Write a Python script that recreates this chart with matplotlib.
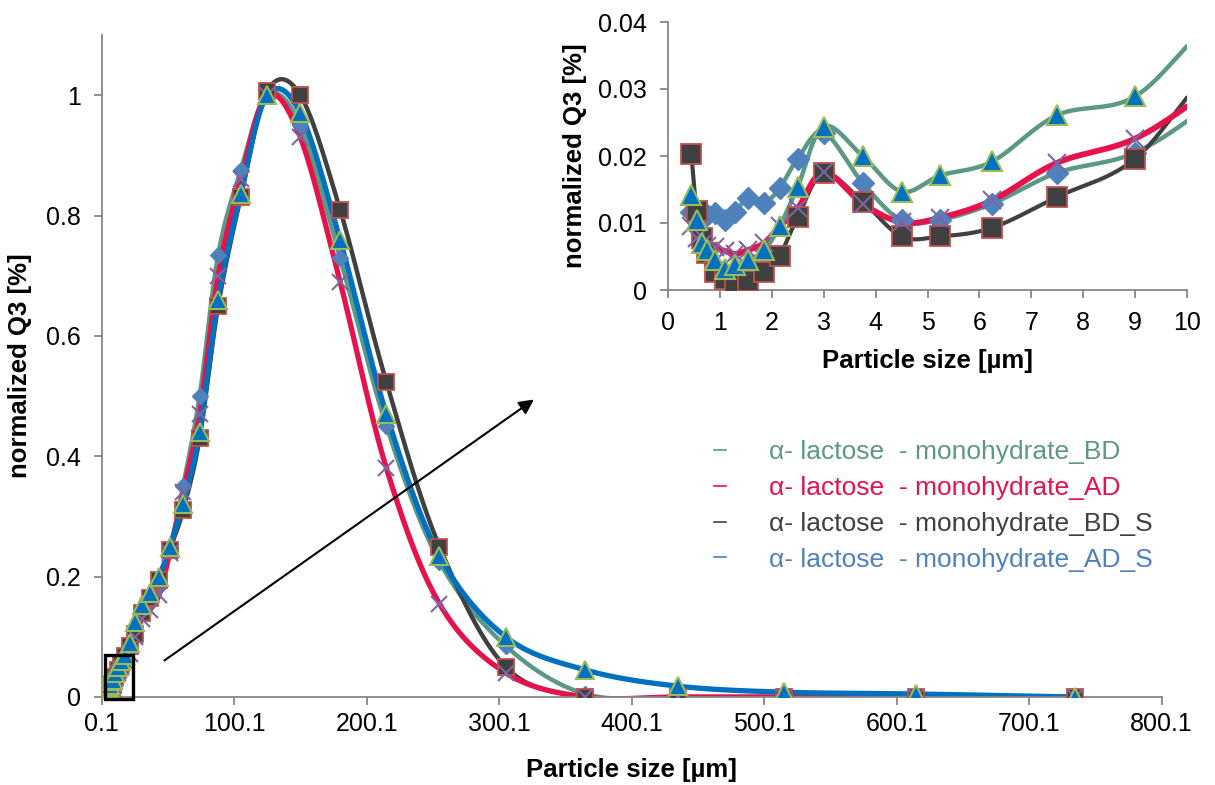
import numpy as np
import matplotlib
matplotlib.use('Agg')
import matplotlib.pyplot as plt
from matplotlib.lines import Line2D
from matplotlib.patches import Rectangle

plt.rcParams['font.family'] = ['Liberation Sans', 'DejaVu Sans']

# ---------------- data ----------------
sizes = [0.45, 0.55, 0.65, 0.75, 0.9, 1.1, 1.3, 1.55, 1.85, 2.15,
         2.5, 3.0, 3.75, 4.5, 5.25, 6.25, 7.5, 9.0, 10.5, 12.5,
         15, 18, 21.5, 25.5, 30.5, 36.5, 43.5, 51.5, 61.5, 74,
         88, 105, 125, 150, 180, 215, 255, 305, 365, 435,
         515, 615, 735]

q3_bd = [0.0116, 0.0112, 0.0110, 0.0112, 0.0115, 0.0104, 0.0117, 0.0138, 0.0130, 0.0152,
         0.0196, 0.0235, 0.0160, 0.0104, 0.0105, 0.0129, 0.0175, 0.0205, 0.028, 0.040,
         0.050, 0.063, 0.080, 0.110, 0.140, 0.160, 0.185, 0.245, 0.350, 0.500,
         0.735, 0.875, 1.000, 0.950, 0.730, 0.450, 0.225, 0.085, 0.005, 0.0,
         0.0, 0.0, 0.0]

q3_ad = [0.0095, 0.0077, 0.0068, 0.0066, 0.0064, 0.0058, 0.0054, 0.0060, 0.0070, 0.0095,
         0.0122, 0.0176, 0.0129, 0.0101, 0.0108, 0.0134, 0.0190, 0.0226, 0.030, 0.040,
         0.050, 0.060, 0.072, 0.100, 0.130, 0.145, 0.170, 0.240, 0.340, 0.470,
         0.700, 0.860, 1.000, 0.930, 0.690, 0.380, 0.155, 0.040, 0.0, 0.0,
         0.0, 0.0, 0.0]

q3_bd_s = [0.0203, 0.0118, 0.0077, 0.0055, 0.0027, 0.0017, 0.0012, 0.0013, 0.0027, 0.0051,
           0.0109, 0.0174, 0.0132, 0.0080, 0.0080, 0.0093, 0.0139, 0.0196, 0.033, 0.045,
           0.055, 0.068, 0.085, 0.105, 0.140, 0.165, 0.195, 0.245, 0.310, 0.430,
           0.650, 0.830, 1.007, 1.000, 0.810, 0.523, 0.250, 0.050, 0.0, 0.0,
           0.0, 0.0, 0.0]

q3_ad_s = [0.0142, 0.0104, 0.0070, 0.0060, 0.0045, 0.0031, 0.0037, 0.0045, 0.0059, 0.0095,
           0.0154, 0.0244, 0.0200, 0.0147, 0.0171, 0.0192, 0.0261, 0.0289, 0.040, 0.050,
           0.060, 0.070, 0.089, 0.125, 0.153, 0.172, 0.200, 0.250, 0.320, 0.440,
           0.660, 0.835, 1.000, 0.970, 0.760, 0.470, 0.235, 0.100, 0.045, 0.018,
           0.008, 0.005, 0.0]

legend_labels = ["α- lactose  - monohydrate_BD",
                 "α- lactose  - monohydrate_AD",
                 "α- lactose  - monohydrate_BD_S",
                 "α- lactose  - monohydrate_AD_S"]
legend_colors = ['#5B9985', '#E6124B', '#404040', '#4F81BD']

main_xticks = [0.1, 100.1, 200.1, 300.1, 400.1, 500.1, 600.1, 700.1, 800.1]
main_xticklabels = ['0.1', '100.1', '200.1', '300.1', '400.1', '500.1', '600.1', '700.1', '800.1']
main_yticks = [0, 0.2, 0.4, 0.6, 0.8, 1.0]
main_yticklabels = ['0', '0.2', '0.4', '0.6', '0.8', '1']
inset_xticks = [0, 1, 2, 3, 4, 5, 6, 7, 8, 9, 10]
inset_yticks = [0, 0.01, 0.02, 0.03, 0.04]
inset_yticklabels = ['0', '0.01', '0.02', '0.03', '0.04']

GREEN = '#5B9985'
RED = '#E6124B'
GREY = '#404040'
BLUE = '#0070C0'
AXC = '#868686'
TICK_FS = 18
LABEL_FS = 18.5


def smooth(ax, x, y, n=40):
    """Excel-like smoothed line: Catmull-Rom Bezier in display space."""
    pts = ax.transData.transform(np.column_stack([x, y]))
    P = np.vstack([pts[0], pts, pts[-1]])
    out = []
    t = np.linspace(0, 1, n)[:, None]
    for i in range(1, len(P) - 2):
        p0, p1, p2, p3 = P[i - 1], P[i], P[i + 1], P[i + 2]
        c1 = p1 + (p2 - p0) / 6.0
        c2 = p2 - (p3 - p1) / 6.0
        seg = (1 - t) ** 3 * p1 + 3 * (1 - t) ** 2 * t * c1 + 3 * (1 - t) * t ** 2 * c2 + t ** 3 * p2
        out.append(seg if i == 1 else seg[1:])
    out = np.vstack(out)
    res = ax.transData.inverted().transform(out)
    return res[:, 0], res[:, 1]


def style_axes(ax, fs, xpad, ypad):
    for s in ['top', 'right']:
        ax.spines[s].set_visible(False)
    for s in ['left', 'bottom']:
        ax.spines[s].set_color(AXC)
        ax.spines[s].set_linewidth(1.3)
    ax.tick_params(direction='out', length=6, width=1.3, color=AXC, labelsize=fs)
    ax.tick_params(axis='x', pad=xpad)
    ax.tick_params(axis='y', pad=ypad)


fig = plt.figure(figsize=(12.15, 7.85), dpi=100)

# ---------------- main axes ----------------
ax = fig.add_axes([101.7 / 1215, 88 / 785, 1060 / 1215, 662 / 785])
ax.set_xlim(0.1, 800.1)
ax.set_ylim(0, 1.1)
style_axes(ax, TICK_FS, 5, 9)
ax.set_xticks(main_xticks)
ax.set_xticklabels(main_xticklabels)
ax.set_yticks(main_yticks)
ax.set_yticklabels(main_yticklabels)
ax.set_xlabel('Particle size [µm]', fontsize=LABEL_FS, fontweight='bold', labelpad=16)
ax.set_ylabel('normalized Q3 [%]', fontsize=LABEL_FS, fontweight='bold', labelpad=10)

main_series = [
    (q3_bd, GREEN, 3.2),
    (q3_bd_s, GREY, 3.2),
    (q3_ad, RED, 3.8),
    (q3_ad_s, BLUE, 3.8),
]
for ys, c, lw in main_series:
    sx, sy = smooth(ax, sizes, ys)
    ax.plot(sx, sy, color=c, lw=lw, solid_capstyle='round', zorder=2)

ax.plot(sizes, q3_bd, ls='none', marker='D', ms=8, mfc='#4F81BD', mec='#4F81BD', zorder=3)
ax.plot(sizes, q3_bd_s, ls='none', marker='s', ms=12, mfc=GREY, mec='#C0504D', mew=1.3, zorder=3)
ax.plot(sizes, q3_ad, ls='none', marker='x', ms=11, mec='#8064A2', mew=1.5, zorder=3)
ax.plot(sizes, q3_ad_s, ls='none', marker='^', ms=13, mfc=BLUE, mec='#9BBB59', mew=1.5, zorder=3)

# zoom box and arrow
ax.add_patch(Rectangle((2.6, -0.004), 21.2, 0.074, fill=False, ec='black', lw=2.4,
                       zorder=6, clip_on=False))
ax.annotate('', xy=(328, 0.497), xytext=(45.7, 0.058),
            arrowprops=dict(arrowstyle='-|>', color='black', lw=1.5, mutation_scale=22),
            zorder=6)

# legend
handles = [Line2D([0], [0], color=c, lw=1.2) for c in legend_colors]
ax.legend(handles, legend_labels, loc='upper left',
          bbox_to_anchor=(714 / 1215, 1 - 440 / 785), bbox_transform=fig.transFigure,
          frameon=False, fontsize=19, handlelength=0.45, handletextpad=1.65,
          labelspacing=0.45, borderpad=0, borderaxespad=0, labelcolor=legend_colors)

# ---------------- inset ----------------
ax2 = fig.add_axes([668 / 1215, 495 / 785, 519 / 1215, 268 / 785])
ax2.set_xlim(0, 10)
ax2.set_ylim(0, 0.04)
ax2.patch.set_alpha(0)
style_axes(ax2, TICK_FS, 9, 9)
ax2.set_xticks(inset_xticks)
ax2.set_yticks(inset_yticks)
ax2.set_yticklabels(inset_yticklabels)
ax2.set_xlabel('Particle size [µm]', fontsize=LABEL_FS, fontweight='bold', labelpad=10)
ax2.set_ylabel('normalized Q3 [%]', fontsize=LABEL_FS, fontweight='bold', labelpad=8)

inset_series = [
    (q3_bd, GREEN, 3.2),
    (q3_bd_s, GREY, 3.0),
    (q3_ad, RED, 4.2),
    (q3_ad_s, GREEN, 3.2),
]
for ys, c, lw in inset_series:
    sx, sy = smooth(ax2, sizes, ys)
    ax2.plot(sx, sy, color=c, lw=lw, solid_capstyle='round', zorder=2)

ax2.plot(sizes, q3_bd, ls='none', marker='D', ms=11, mfc='#4F81BD', mec='#4F81BD', zorder=3)
ax2.plot(sizes, q3_bd_s, ls='none', marker='s', ms=14, mfc=GREY, mec='#C0504D', mew=1.3, zorder=3)
ax2.plot(sizes, q3_ad, ls='none', marker='x', ms=13, mec='#8064A2', mew=1.5, zorder=3)
ax2.plot(sizes, q3_ad_s, ls='none', marker='^', ms=15, mfc=BLUE, mec='#9BBB59', mew=1.5, zorder=3)

fig.savefig('out.png', dpi=100)
